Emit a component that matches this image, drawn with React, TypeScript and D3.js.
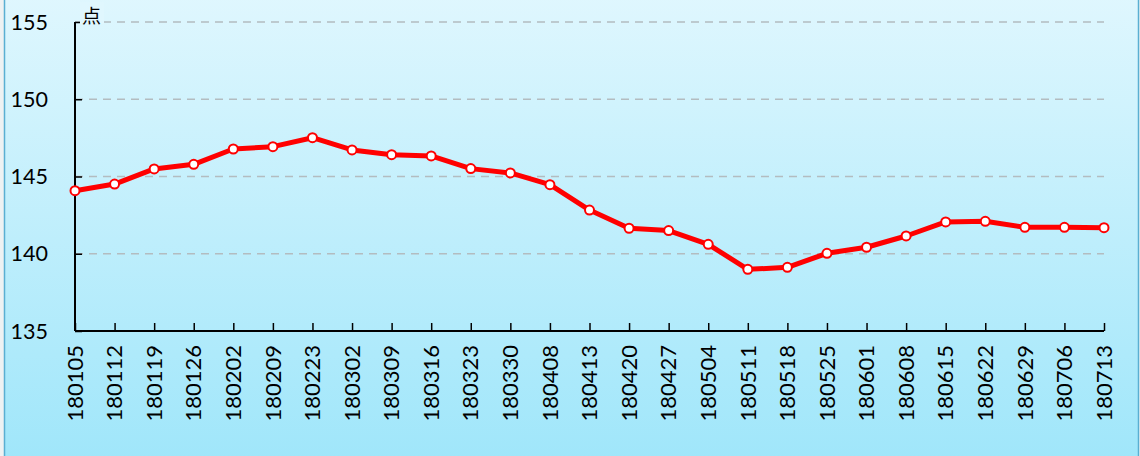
import React, { useEffect, useRef } from "react";
import * as d3 from "d3";

// weekly dates (yymmdd) and index values
const dates = [
  "180105", "180112", "180119", "180126", "180202", "180209", "180223",
  "180302", "180309", "180316", "180323", "180330", "180408", "180413",
  "180420", "180427", "180504", "180511", "180518", "180525", "180601",
  "180608", "180615", "180622", "180629", "180706", "180713",
];
const values = [
  144.08, 144.51, 145.49, 145.79, 146.78, 146.93, 147.51,
  146.72, 146.41, 146.33, 145.51, 145.23, 144.47, 142.83,
  141.65, 141.5, 140.61, 138.99, 139.12, 140.03, 140.42,
  141.15, 142.06, 142.1, 141.71, 141.71, 141.69,
];
const yTicks = [135, 140, 145, 150, 155];
const unitLabel = "点";

const W = 1140;
const H = 456;
const FONT = "Lato, 'Open Sans', sans-serif";

const App = () => {
  const svgRef = useRef<SVGSVGElement>(null);

  useEffect(() => {
    const svg = d3.select(svgRef.current);
    svg.selectAll("*").remove();

    const margin = { top: 22, right: 36, bottom: 125, left: 75 };
    const innerW = W - margin.left - margin.right;
    const innerH = H - margin.top - margin.bottom;

    // background gradient
    const defs = svg.append("defs");
    const grad = defs
      .append("linearGradient")
      .attr("id", "bg")
      .attr("x1", 0)
      .attr("y1", 0)
      .attr("x2", 0)
      .attr("y2", 1);
    grad.append("stop").attr("offset", "0%").attr("stop-color", "#e0f7fe");
    grad.append("stop").attr("offset", "100%").attr("stop-color", "#9fe6fa");

    svg.append("rect").attr("width", W).attr("height", H).attr("fill", "#eef2f3");
    svg
      .append("rect")
      .attr("x", 4.5)
      .attr("y", -10)
      .attr("width", 1134)
      .attr("height", H + 20)
      .attr("fill", "url(#bg)")
      .attr("stroke", "#5aafd2")
      .attr("stroke-width", 1.5);

    const x = d3.scalePoint().domain(dates).range([0, innerW]).padding(0);
    const y = d3.scaleLinear().domain([135, 155]).range([innerH, 0]);

    const g = svg
      .append("g")
      .attr("transform", `translate(${margin.left},${margin.top})`);

    // dashed grid lines
    g.append("g")
      .selectAll("line")
      .data(yTicks.filter((d) => d !== 135))
      .enter()
      .append("line")
      .attr("x1", 0)
      .attr("x2", innerW)
      .attr("y1", (d) => y(d))
      .attr("y2", (d) => y(d))
      .attr("stroke", "#b3bcc0")
      .attr("stroke-width", 1.5)
      .attr("stroke-dasharray", "8,6");

    // y axis: ticks point inward
    const yAxis = g
      .append("g")
      .call(d3.axisRight(y).tickValues(yTicks).tickSize(7).tickFormat(() => ""));
    yAxis.select(".domain").remove();
    yAxis.selectAll("line").attr("stroke", "#000").attr("stroke-width", 1.5);
    g.append("line")
      .attr("x1", 0)
      .attr("x2", 0)
      .attr("y1", 0)
      .attr("y2", innerH)
      .attr("stroke", "#000")
      .attr("stroke-width", 2);

    g.append("g")
      .selectAll("text")
      .data(yTicks)
      .enter()
      .append("text")
      .attr("x", -27)
      .attr("y", (d) => y(d))
      .attr("dy", "0.35em")
      .attr("text-anchor", "end")
      .attr("font-family", FONT)
      .attr("font-size", 21.5)
      .attr("fill", "#000")
      .text((d) => d);

    // x axis: ticks point upward
    const xAxis = g
      .append("g")
      .attr("transform", `translate(0,${innerH})`)
      .call(d3.axisTop(x).tickSize(8).tickFormat(() => ""));
    xAxis.select(".domain").remove();
    xAxis.selectAll("line").attr("stroke", "#000").attr("stroke-width", 1.5);
    g.append("line")
      .attr("x1", 0)
      .attr("x2", innerW)
      .attr("y1", innerH)
      .attr("y2", innerH)
      .attr("stroke", "#000")
      .attr("stroke-width", 2);

    g.append("g")
      .selectAll("text")
      .data(dates)
      .enter()
      .append("text")
      .attr(
        "transform",
        (d) => `translate(${x(d)},${innerH + 14}) rotate(-90)`
      )
      .attr("dy", "0.35em")
      .attr("text-anchor", "end")
      .attr("font-family", FONT)
      .attr("font-size", 22)
      .attr("fill", "#000")
      .text((d) => d);

    // unit label
    g.append("rect")
      .attr("x", 5)
      .attr("y", -20)
      .attr("width", 24)
      .attr("height", 22)
      .attr("fill", "#e0f7fe");
    g.append("text")
      .attr("x", 7)
      .attr("y", 1)
      .attr("font-family", "'Noto Sans CJK SC', sans-serif")
      .attr("font-size", 19)
      .attr("fill", "#000")
      .text(unitLabel);

    // the line
    const line = d3
      .line<number>()
      .x((_, i) => x(dates[i]) as number)
      .y((d) => y(d));

    g.append("path")
      .datum(values)
      .attr("fill", "none")
      .attr("stroke", "#ff0000")
      .attr("stroke-width", 5)
      .attr("stroke-linejoin", "round")
      .attr("d", line);

    g.selectAll("circle.pt")
      .data(values)
      .enter()
      .append("circle")
      .attr("class", "pt")
      .attr("cx", (_, i) => x(dates[i]) as number)
      .attr("cy", (d) => y(d))
      .attr("r", 4.5)
      .attr("fill", "#fff")
      .attr("stroke", "#ff0000")
      .attr("stroke-width", 2);
  }, []);

  return (
    <div style={{ position: "absolute", left: 0, top: 0 }}>
      <svg ref={svgRef} width={W} height={H} style={{ display: "block" }}></svg>
    </div>
  );
};

export default App;
